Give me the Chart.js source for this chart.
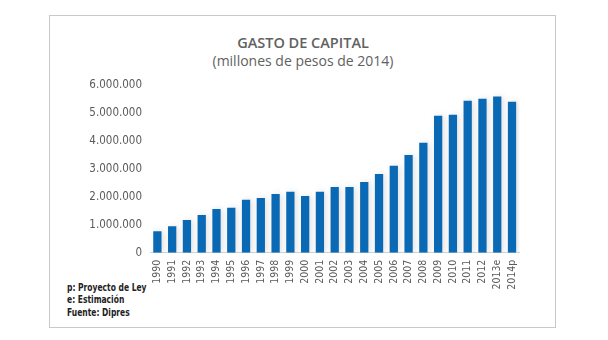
<!DOCTYPE html>
<html>
<head>
<meta charset="utf-8">
<script src="https://cdn.jsdelivr.net/npm/chart.js@4/dist/chart.umd.min.js"></script>
<style>
  html, body { margin: 0; padding: 0; background: #fff; }
  #wrap { position: relative; width: 608px; height: 340px; }
  #frame { position: absolute; left: 49px; top: 15px; width: 505px; height: 311px; border: 1px solid #c9c9c9; }
  #title { position: absolute; left: 0; width: 606px; top: 33px; text-align: center;
    font: 600 14.5px "Open Sans", sans-serif; color: #616161; }
  #subtitle { position: absolute; left: 0; width: 606px; top: 51px; text-align: center;
    font: 14px "Open Sans", sans-serif; color: #616161; }
  #notes { position: absolute; left: 67px; top: 281px; font: bold 10.5px "DejaVu Sans Condensed", sans-serif;
    color: #222; line-height: 12.4px; transform: scaleX(0.8); transform-origin: 0 0; white-space: nowrap; }
  canvas { position: absolute; left: 0; top: 0; }
</style>
</head>
<body>
<div id="wrap">
  <div id="frame"></div>
  <div id="title">GASTO DE CAPITAL</div>
  <div id="subtitle">(millones de pesos de 2014)</div>
  <div id="notes">p: Proyecto de Ley<br>e: Estimación<br>Fuente: Dipres</div>
  <canvas id="chart" width="608" height="340"></canvas>
</div>
<script>
// datos (millones de pesos de 2014)
const years = ['1990','1991','1992','1993','1994','1995','1996','1997','1998','1999','2000','2001','2002',
  '2003','2004','2005','2006','2007','2008','2009','2010','2011','2012','2013e','2014p'];
const gasto = [770000, 950000, 1170000, 1350000, 1560000, 1610000, 1890000, 1960000, 2100000, 2180000,
  2030000, 2180000, 2350000, 2350000, 2530000, 2820000, 3110000, 3500000, 3930000, 4900000,
  4940000, 5440000, 5510000, 5590000, 5400000];
const yTicks = [0, 1000000, 2000000, 3000000, 4000000, 5000000, 6000000];

const Y_FONT = { family: '"DejaVu Sans Condensed", sans-serif', size: 11.5 };
const X_FONT = { family: '"DejaVu Sans Condensed", sans-serif', size: 10.5 };

function fmtDots(v) {
  return String(v).replace(/\B(?=(\d{3})+(?!\d))/g, '.');
}

// sombra suave detras de las barras
const barShadow = {
  id: 'barShadow',
  beforeDatasetsDraw(chart) {
    const c = chart.ctx;
    c.save();
    c.shadowColor = 'rgba(0,0,0,0.13)';
    c.shadowBlur = 6;
    c.shadowOffsetX = 2;
    c.shadowOffsetY = 0;
  },
  afterDatasetsDraw(chart) { chart.ctx.restore(); }
};

new Chart(document.getElementById('chart'), {
  type: 'bar',
  data: {
    labels: years,
    datasets: [{ data: gasto, backgroundColor: '#0a69b5', borderWidth: 0,
      barPercentage: 0.56, categoryPercentage: 1 }]
  },
  options: {
    responsive: false, animation: false,
    layout: { padding: { left: 0, top: 85, right: 88.6, bottom: 0 } },
    plugins: { legend: { display: false }, tooltip: { enabled: false } },
    scales: {
      x: {
        grid: { display: false, drawTicks: false },
        border: { display: true, color: '#d4d4d4', width: 1 },
        ticks: { color: '#5a5a5a', font: X_FONT, minRotation: 90, maxRotation: 90, padding: 7, autoSkip: false },
        afterFit(s) { s.height = 87.3; }
      },
      y: {
        min: 0, max: 6000000,
        afterBuildTicks(s) { s.ticks = yTicks.map(v => ({ value: v })); },
        grid: { display: false, drawTicks: false },
        border: { display: false },
        ticks: { color: '#5a5a5a', font: Y_FONT, padding: 8, callback: v => fmtDots(v) },
        afterFit(s) { s.width = 150; }
      }
    }
  },
  plugins: [barShadow]
});
</script>
</body>
</html>
